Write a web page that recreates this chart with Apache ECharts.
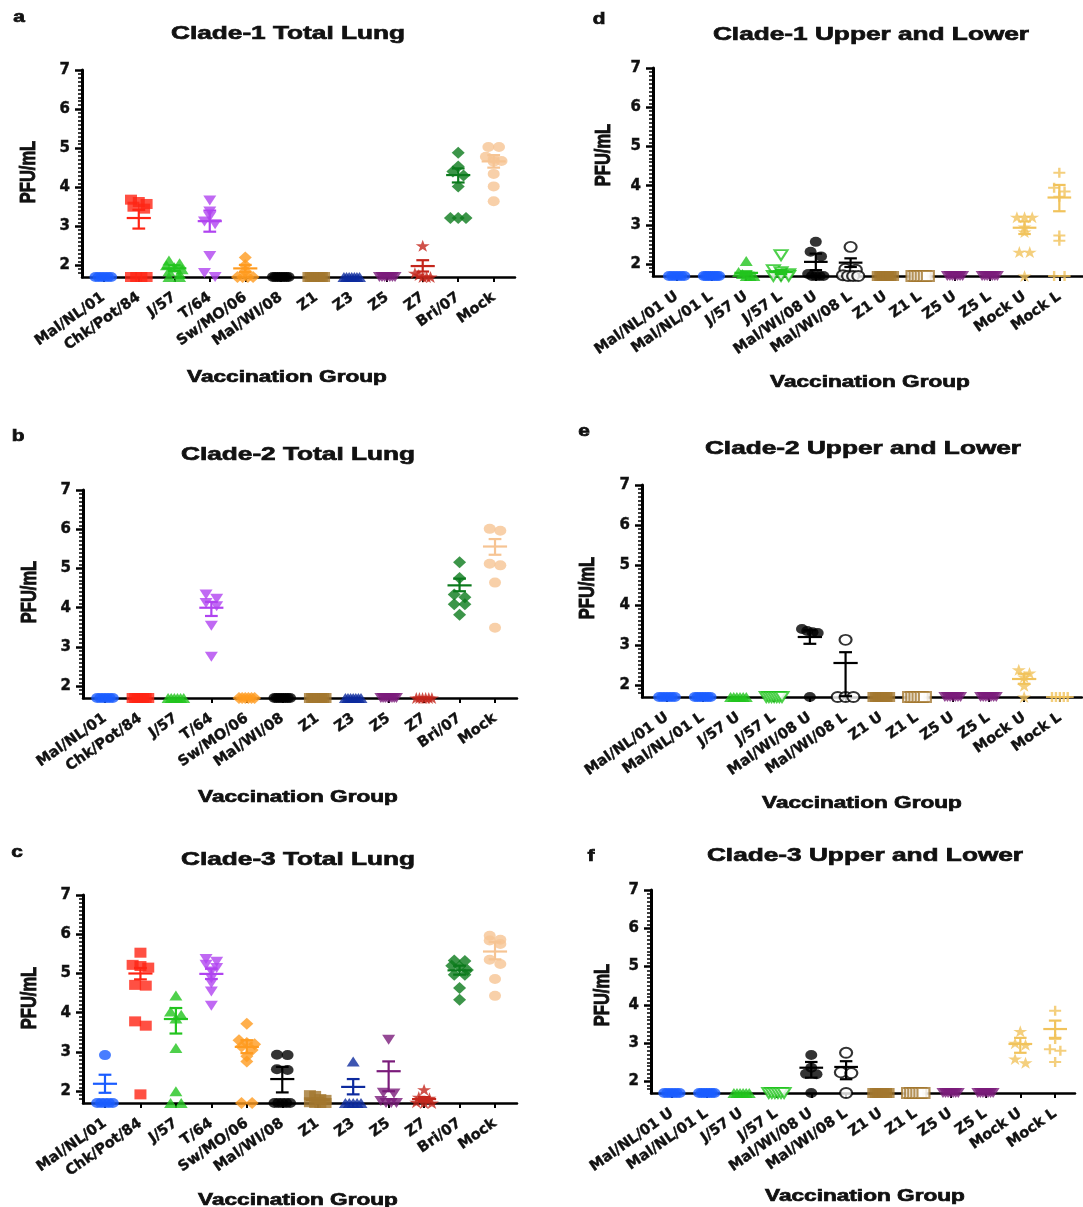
<!DOCTYPE html>
<html><head><meta charset="utf-8">
<script src="https://cdn.jsdelivr.net/npm/echarts@6/dist/echarts.min.js"></script>
<style>html,body{margin:0;padding:0;background:#fff}#c{width:1083px;height:1207px}</style>
</head><body><div id="c"></div>
<script>
// ---------- categories / ticks ----------
const catsTotal = ['Mal/NL/01','Chk/Pot/84','J/57','T/64','Sw/MO/06','Mal/WI/08','Z1','Z3','Z5','Z7','Bri/07','Mock'];
const catsUL = ['Mal/NL/01 U','Mal/NL/01 L','J/57 U','J/57 L','Mal/WI/08 U','Mal/WI/08 L','Z1 U','Z1 L','Z5 U','Z5 L','Mock U','Mock L'];
const yTickValues = [2,3,4,5,6,7];

// ---------- panel a : Clade-1 Total Lung ----------
const aPoints = [
 [1.7,1.7,1.7,1.7,1.7,1.7],
 [3.68,3.62,3.57,3.5,3.45,1.7,1.7,1.7,1.7],
 [2.12,2.05,2.0,1.95,1.9,1.85,1.78,1.7,1.7],
 [3.66,3.38,3.24,3.12,3.05,2.24,1.8,1.7],
 [2.2,2.0,1.85,1.7,1.7,1.7,1.7],
 [1.7,1.7,1.7,1.7,1.7,1.7,1.7,1.7],
 [1.7,1.7,1.7,1.7,1.7,1.7,1.7,1.7],
 [1.7,1.7,1.7,1.7,1.7,1.7,1.7],
 [1.7,1.7,1.7,1.7,1.7,1.7,1.7],
 [2.5,1.8,1.75,1.7,1.7,1.7],
 [4.88,4.53,4.4,4.3,4.02,3.21,3.21,3.21],
 [5.03,5.03,4.78,4.72,4.67,4.65,4.34,4.02,3.64]
];
const aMean = [1.7,3.21,1.92,3.13,1.92,1.7,1.7,1.7,1.7,1.98,4.31,4.66];
const aLow  = [1.7,2.94,1.85,2.86,1.83,1.7,1.7,1.7,1.7,1.84,4.12,4.5];
const aHigh = [1.7,3.42,2.0,3.40,2.01,1.7,1.7,1.7,1.7,2.13,4.48,4.82];

// ---------- panel b : Clade-2 Total Lung ----------
const bPoints = [
 [1.7,1.7,1.7,1.7,1.7,1.7],
 [1.7,1.7,1.7,1.7,1.7,1.7,1.7],
 [1.7,1.7,1.7,1.7,1.7,1.7],
 [4.34,4.23,4.12,4.04,3.54,2.75],
 [1.7,1.7,1.7,1.7,1.7,1.7],
 [1.7,1.7,1.7,1.7,1.7,1.7,1.7,1.7],
 [1.7,1.7,1.7,1.7,1.7,1.7,1.7,1.7],
 [1.7,1.7,1.7,1.7,1.7,1.7,1.7],
 [1.7,1.7,1.7,1.7,1.7,1.7,1.7,1.7],
 [1.7,1.7,1.7,1.7,1.7,1.7],
 [5.16,4.76,4.34,4.27,4.09,4.09,3.82],
 [6.01,5.96,5.12,5.08,4.64,3.49]
];
const bMean = [1.7,1.7,1.7,4.0,1.7,1.7,1.7,1.7,1.7,1.7,4.57,5.56];
const bLow  = [1.7,1.7,1.7,3.79,1.7,1.7,1.7,1.7,1.7,1.7,4.42,5.35];
const bHigh = [1.7,1.7,1.7,4.15,1.7,1.7,1.7,1.7,1.7,1.7,4.74,5.75];

// ---------- panel c : Clade-3 Total Lung ----------
const cPoints = [
 [2.92,1.7,1.7,1.7,1.7,1.7],
 [5.53,5.22,5.19,5.15,4.71,4.69,3.78,3.67,1.92],
 [4.44,4.03,3.95,3.85,3.1,2.0,1.7,1.7],
 [5.37,5.3,5.22,5.14,5.05,4.88,4.75,4.54,4.18],
 [3.72,3.3,3.23,3.2,3.14,3.05,2.89,2.76,1.7,1.7],
 [2.93,2.92,2.56,2.54,1.7,1.7,1.7,1.7,1.7],
 [1.9,1.88,1.8,1.78,1.72,1.7,1.7,1.7],
 [2.76,1.7,1.7,1.7,1.7,1.7],
 [3.31,1.96,1.94,1.75,1.7,1.7,1.7],
 [2.04,1.85,1.82,1.72,1.7,1.7],
 [5.33,5.32,5.2,5.18,5.09,4.97,4.97,4.63,4.33],
 [5.96,5.86,5.84,5.75,5.35,5.24,4.86,4.43]
];
const cMean = [2.19,5.0,3.84,4.99,3.13,2.31,1.78,2.11,2.51,1.8,5.08,5.56];
const cLow  = [1.96,4.85,3.47,4.86,2.97,1.97,1.74,1.92,2.0,1.75,4.97,5.36];
const cHigh = [2.42,5.14,4.12,5.12,3.3,2.62,1.82,2.31,2.76,1.85,5.2,5.8];

// ---------- panel d : Clade-1 Upper and Lower ----------
const dPoints = [
 [1.7,1.7,1.7,1.7,1.7,1.7],
 [1.7,1.7,1.7,1.7,1.7,1.7,1.7,1.7],
 [2.08,1.8,1.75,1.7,1.7,1.7],
 [2.23,1.85,1.8,1.75,1.7,1.7,1.7],
 [2.57,2.32,2.2,1.75,1.7,1.7,1.7,1.7],
 [2.44,1.88,1.86,1.72,1.7,1.7,1.7],
 [1.7,1.7,1.7,1.7,1.7,1.7,1.7],
 [1.7,1.7,1.7,1.7,1.7,1.7],
 [1.7,1.7,1.7,1.7,1.7,1.7,1.7],
 [1.7,1.7,1.7,1.7,1.7,1.7,1.7],
 [3.2,3.2,3.2,2.95,2.82,2.31,2.31,1.7],
 [4.33,3.95,3.85,3.72,2.73,2.6,1.7,1.7]
];
const dMean = [1.7,1.7,1.78,1.8,2.06,2.04,1.7,1.7,1.7,1.7,2.93,3.7];
const dLow  = [1.7,1.7,1.74,1.75,1.85,1.93,1.7,1.7,1.7,1.7,2.77,3.35];
const dHigh = [1.7,1.7,1.82,1.86,2.27,2.15,1.7,1.7,1.7,1.7,3.09,4.02];

// ---------- panel e : Clade-2 Upper and Lower ----------
const ePoints = [
 [1.7,1.7,1.7,1.7,1.7,1.7],
 [1.7,1.7,1.7,1.7,1.7,1.7,1.7],
 [1.7,1.7,1.7,1.7,1.7,1.7],
 [1.7,1.7,1.7,1.7,1.7,1.7,1.7],
 [3.4,3.35,3.32,3.3,1.7],
 [3.13,1.7,1.7,1.7],
 [1.7,1.7,1.7,1.7,1.7,1.7,1.7],
 [1.7,1.7,1.7,1.7,1.7,1.7],
 [1.7,1.7,1.7,1.7,1.7,1.7,1.7],
 [1.7,1.7,1.7,1.7,1.7,1.7,1.7],
 [2.38,2.3,2.2,1.98,1.7],
 [1.7,1.7,1.7,1.7,1.7]
];
const eMean = [1.7,1.7,1.7,1.7,3.2,2.55,1.7,1.7,1.7,1.7,2.15,1.7];
const eLow  = [1.7,1.7,1.7,1.7,3.03,1.72,1.7,1.7,1.7,1.7,2.03,1.7];
const eHigh = [1.7,1.7,1.7,1.7,3.37,2.82,1.7,1.7,1.7,1.7,2.28,1.7];

// ---------- panel f : Clade-3 Upper and Lower ----------
const fPoints = [
 [1.7,1.7,1.7,1.7,1.7,1.7],
 [1.7,1.7,1.7,1.7,1.7,1.7,1.7],
 [1.7,1.7,1.7,1.7,1.7,1.7],
 [1.7,1.7,1.7,1.7,1.7,1.7],
 [2.69,2.36,2.2,2.19,1.7],
 [2.75,2.24,2.22,1.7],
 [1.7,1.7,1.7,1.7,1.7,1.7,1.7],
 [1.7,1.7,1.7,1.7,1.7,1.7],
 [1.7,1.7,1.7,1.7,1.7,1.7,1.7],
 [1.7,1.7,1.7,1.7,1.7,1.7,1.7],
 [3.31,3.0,2.96,2.59,2.49],
 [3.85,3.11,2.84,2.8,2.51]
];
const fMean = [1.7,1.7,1.7,1.7,2.36,2.38,1.7,1.7,1.7,1.7,2.98,3.37];
const fLow  = [1.7,1.7,1.7,1.7,2.1,2.06,1.7,1.7,1.7,1.7,2.75,3.14];
const fHigh = [1.7,1.7,1.7,1.7,2.51,2.53,1.7,1.7,1.7,1.7,3.14,3.59];

// ---------- styles ----------
const INV = 'path://M0,0 L10,0 L5,9 Z';
const STAR = 'path://M5,0 L6.18,3.62 L10,3.62 L6.9,5.86 L8.09,9.5 L5,7.25 L1.91,9.5 L3.1,5.86 L0,3.62 L3.82,3.62 Z';
const PLUS = 'path://M4,0 H6 V4 H10 V6 H6 V10 H4 V6 H0 V4 H4 Z';
const colorsTotal = ['#1a5cff','#ff2414','#22c41e','#b043f0','#ff9b1f','#000000','#a3772e','#0d2a9e','#7a1b7a','#c4261c','#0b7a1c','#f6c493'];
const symbolsTotal = ['circle','rect','triangle',INV,'diamond','circle','rect','triangle',INV,STAR,'diamond','circle'];
const colorsUL = ['#1a5cff','#1a5cff','#22c41e','#22c41e','#000000','#000000','#a3772e','#a3772e','#7a1b7a','#7a1b7a','#f1c35c','#f1c35c'];
const symbolsUL = ['circle','circle','triangle',INV,'circle','circle','rect','rect',INV,INV,STAR,PLUS];
const hollowUL = [false,false,false,true,false,true,false,true,false,false,false,false];
const FONT = '"Liberation Sans", Arial, Helvetica, sans-serif';
const WFONT = '"DejaVu Sans", "Liberation Sans", Arial, sans-serif';
const SX = 1.3; // horizontal stretch seen in the reference figure

function symSize(s){
  let w=10, h=10;
  if (s==='triangle' || s===INV) { w=11; h=10; }
  else if (s==='diamond') { w=11; h=12; }
  else if (s===STAR) { w=12; h=12; }
  return [Math.round(w*1.2), h];
}

const panels = [
 {cats:catsTotal, pts:aPoints, mean:aMean, lo:aLow, hi:aHigh, kind:'t', grid:{left:82,top:70,width:433,height:207}, xr:[-0.6,11.6],
  title:'Clade-1 Total Lung', tp:[288,34], letter:'a', lp:[19,18], xn:[287,377], yn:[29,172]},
 {cats:catsTotal, pts:bPoints, mean:bMean, lo:bLow, hi:bHigh, kind:'t', grid:{left:83,top:490,width:434,height:208}, xr:[-0.62,11.62],
  title:'Clade-2 Total Lung', tp:[298,455], letter:'b', lp:[18,437], xn:[298,797], yn:[30,592]},
 {cats:catsTotal, pts:cPoints, mean:cMean, lo:cLow, hi:cHigh, kind:'t', grid:{left:83,top:895,width:434,height:208}, xr:[-0.62,11.62],
  title:'Clade-3 Total Lung', tp:[298,860], letter:'c', lp:[17,853], xn:[298,1200], yn:[30,998]},
 {cats:catsUL, pts:dPoints, mean:dMean, lo:dLow, hi:dHigh, kind:'u', grid:{left:653,top:68,width:435,height:208}, xr:[-0.68,11.68],
  title:'Clade-1 Upper and Lower', tp:[871,35], letter:'d', lp:[599,20], xn:[870,382], yn:[604,155]},
 {cats:catsUL, pts:ePoints, mean:eMean, lo:eLow, hi:eHigh, kind:'u', grid:{left:642,top:485,width:440,height:212}, xr:[-0.7,11.62],
  title:'Clade-2 Upper and Lower', tp:[863,449], letter:'e', lp:[584,432], xn:[862,803], yn:[588,588]},
 {cats:catsUL, pts:fPoints, mean:fMean, lo:fLow, hi:fHigh, kind:'u', grid:{left:651,top:890,width:424,height:203}, xr:[-0.6,11.57],
  title:'Clade-3 Upper and Lower', tp:[865,856], letter:'f', lp:[591,857], xn:[865,1196], yn:[603,995]}
];

// Prism-like horizontal spread for points with close values
function spread(vals){
  const sorted = vals.slice().sort((a,b)=>b-a);
  const clusters = [];
  sorted.forEach(v=>{
    const last = clusters[clusters.length-1];
    if (last && last.start - v < 0.12) last.vals.push(v); else clusters.push({start:v, vals:[v]});
  });
  const out = [];
  clusters.forEach(cl=>{
    const n = cl.vals.length;
    const sp = n>1 ? Math.min(0.3, 0.44/(n-1)) : 0;
    cl.vals.forEach((v,i)=>out.push([(i-(n-1)/2)*sp, v]));
  });
  return out;
}

const minorTicks = [];
for (let k=18;k<=69;k++) if (k%10!==0) minorTicks.push(k/10);
const catIdx = [0,1,2,3,4,5,6,7,8,9,10,11];

const option = {animation:false, backgroundColor:'#fff', grid:[], xAxis:[], yAxis:[], series:[], graphic:[]};

panels.forEach((p,i)=>{
  const colors = p.kind==='t' ? colorsTotal : colorsUL;
  const symbols = p.kind==='t' ? symbolsTotal : symbolsUL;
  option.grid.push(Object.assign({containLabel:false}, p.grid));
  option.xAxis.push({type:'value', gridIndex:i, min:p.xr[0], max:p.xr[1],
    axisLine:{show:true, onZero:false, lineStyle:{color:'#000', width:2.5}},
    axisTick:{show:true, customValues:catIdx, length:5, lineStyle:{color:'#000', width:2}},
    axisLabel:{customValues:catIdx, formatter:(v)=>p.cats[Math.round(v)], rotate:35, margin:19,
      fontSize:14.5, fontWeight:'bold', fontFamily:WFONT, color:'#111',
      textBorderColor:'#111', textBorderWidth:0.4},
    splitLine:{show:false}});
  option.yAxis.push({type:'value', gridIndex:i, min:1.7, max:7, position:'left',
    axisLine:{show:true, onZero:false, lineStyle:{color:'#000', width:3}},
    axisTick:{show:true, customValues:yTickValues, length:7, lineStyle:{color:'#000', width:2.5}},
    axisLabel:{customValues:yTickValues, margin:12, fontSize:15, fontWeight:'bold', fontFamily:WFONT, color:'#111',
      textBorderColor:'#111', textBorderWidth:0.4},
    splitLine:{show:false}});
  option.yAxis.push({type:'value', gridIndex:i, min:1.7, max:7, position:'left',
    axisLine:{show:false, onZero:false},
    axisTick:{show:true, customValues:minorTicks, length:4, lineStyle:{color:'#000', width:1.5}},
    axisLabel:{show:false}, splitLine:{show:false}});

  const data = [];
  p.pts.forEach((vals,gi)=>{
    const sym = symbols[gi];
    const hollow = p.kind==='u' && hollowUL[gi];
    spread(vals).forEach(([off,v])=>{
      data.push({value:[gi+off, v], symbol:sym, symbolSize:symSize(sym),
        itemStyle: hollow ? {color:'#fff', borderColor:colors[gi], borderWidth:2}
                          : {color:colors[gi], borderWidth:0}});
    });
  });
  option.series.push({type:'scatter', xAxisIndex:i, yAxisIndex:2*i, data:data, z:2, silent:true});

  const err = p.mean.map((m,gi)=>[gi, m, p.lo[gi], p.hi[gi]]);
  option.series.push({type:'custom', xAxisIndex:i, yAxisIndex:2*i, z:3, silent:true,
    encode:{x:0, y:[1,2,3]}, data:err,
    renderItem:function(params, api){
      const x=api.value(0), m=api.value(1), lo=api.value(2), hi=api.value(3);
      if (hi-lo < 0.02 && m <= 1.71) return null;
      const c = colors[params.dataIndex];
      const seg=(a,b)=>({type:'line', shape:{x1:a[0],y1:a[1],x2:b[0],y2:b[1]}, style:{stroke:c, lineWidth:2.2}});
      return {type:'group', children:[
        seg(api.coord([x-0.34,m]), api.coord([x+0.34,m])),
        seg(api.coord([x,lo]), api.coord([x,hi])),
        seg(api.coord([x-0.18,hi]), api.coord([x+0.18,hi])),
        seg(api.coord([x-0.18,lo]), api.coord([x+0.18,lo]))
      ]};
    }});

  const txt=(t,pos,size,rot,sx,sy)=>({type:'text', x:pos[0], y:pos[1], rotation:rot||0, scaleX:sx||1, scaleY:sy||1, silent:true,
    style:{text:t, font:'bold '+size+'px '+FONT, fill:'#111', stroke:'#111', lineWidth:0.7,
      align:'center', verticalAlign:'middle', textAlign:'center', textVerticalAlign:'middle'}});
  option.graphic.push(txt(p.title, p.tp, 19, 0, 1.38, 1));
  option.graphic.push(txt(p.letter, p.lp, 16, 0, SX, 1));
  option.graphic.push(txt('Vaccination Group', p.xn, 17, 0, 1.33, 1));
  option.graphic.push(txt('PFU/mL', p.yn, 16.5, Math.PI/2, 1, SX));
});

const chart = echarts.init(document.getElementById('c'), null, {renderer:'canvas'});
chart.setOption(option);
</script>
</body></html>
